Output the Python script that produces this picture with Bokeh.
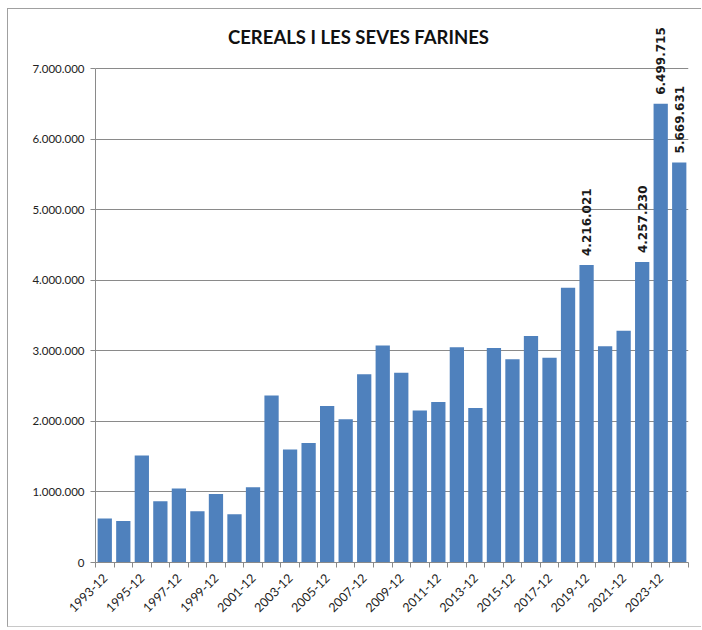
import math
from bokeh.plotting import figure
from bokeh.models import Range1d, FixedTicker, Label, ColumnDataSource
from bokeh.core.properties import value
from bokeh.embed import file_html
from bokeh.resources import INLINE

# ---- data ----
periods = [f"{y}-12" for y in range(1993, 2025)]
values = [624000, 587000, 1516000, 869000, 1047000, 728000, 972000, 685000,
          1066000, 2365000, 1602000, 1692000, 2216000, 2030000, 2668000, 3075000,
          2690000, 2155000, 2275000, 3050000, 2190000, 3040000, 2880000, 3210000,
          2900000, 3895000, 4216021, 3065000, 3285000, 4257230, 6499715, 5669631]
labeled_periods = ["2019-12", "2022-12", "2023-12", "2024-12"]
y_ticks = [0, 1000000, 2000000, 3000000, 4000000, 5000000, 6000000, 7000000]
title_text = "CEREALS I LES SEVES FARINES"


def fmt(v):
    return f"{int(v):,}".replace(",", ".")


idx = list(range(len(periods)))
src = ColumnDataSource(dict(x=idx, top=values))

lab_x = [i for i, p_ in enumerate(periods) if p_ in labeled_periods]
lab_y = [values[i] for i in lab_x]
lab_t = [fmt(v) for v in lab_y]
lab_src = ColumnDataSource(dict(x=lab_x, y=lab_y, t=lab_t))

GRAY = "#8a8a8a"
BLUE = "#4f81bd"

p = figure(width=694, height=619, output_backend="svg", toolbar_location=None,
           x_range=Range1d(-0.5, len(periods) - 0.5), y_range=Range1d(0, 7.808e6),
           min_border_left=87, min_border_right=14, min_border_top=2, min_border_bottom=66)
p.outline_line_color = None
p.background_fill_color = "white"
p.border_fill_color = "white"
p.styles = {"margin-left": "7px", "margin-top": "8px",
            "border-left": "1px solid #a0a0a0", "border-top": "1px solid #a0a0a0",
            "border-bottom": "1px solid #c8c8c8", "border-right": "none"}

p.vbar(x="x", top="top", width=0.77, source=src, fill_color=BLUE, line_color=None)

p.text(x="x", y="y", text="t", source=lab_src, angle=math.pi / 2,
       text_align="left", text_baseline="middle", y_offset=-9,
       text_font=value("DejaVu Sans"), text_font_style="bold",
       text_font_size="12px", text_color="#1a1a1a")

# title
p.add_layout(Label(x=13.69, y=7.44e6, text=title_text, text_align="center",
                   text_baseline="middle", text_font="Lato", text_font_style="bold",
                   text_font_size="18.5px", text_color="#111111"))

# y axis
p.yaxis.ticker = FixedTicker(ticks=y_ticks)
p.yaxis.major_label_overrides = {t: fmt(t) for t in y_ticks}
p.yaxis.bounds = (0, 7000000)
p.yaxis.axis_line_color = GRAY
p.yaxis.major_tick_line_color = GRAY
p.yaxis.major_tick_out = 5
p.yaxis.major_tick_in = 0
p.yaxis.minor_tick_line_color = None
p.yaxis.major_label_standoff = 6
p.yaxis.major_label_text_font = "Lato"
p.yaxis.major_label_text_font_size = "11.5px"
p.yaxis.major_label_text_color = "#222222"

# x axis
major = [i for i in idx if i % 2 == 0]
minor = [i - 0.5 for i in idx] + [len(idx) - 0.5]
p.xaxis.ticker = FixedTicker(ticks=major, minor_ticks=minor)
p.xaxis.major_label_overrides = {i: periods[i] for i in major}
p.xaxis.major_label_orientation = math.pi / 4
p.xaxis.axis_line_color = GRAY
p.xaxis.major_tick_line_color = None
p.xaxis.major_tick_out = 0
p.xaxis.major_tick_in = 0
p.xaxis.minor_tick_line_color = GRAY
p.xaxis.minor_tick_out = 5
p.xaxis.minor_tick_in = 0
p.xaxis.major_label_standoff = 8
p.xaxis.major_label_text_font = "Lato"
p.xaxis.major_label_text_font_size = "12.5px"
p.xaxis.major_label_text_color = "#222222"

p.xgrid.grid_line_color = None
p.ygrid.ticker = FixedTicker(ticks=y_ticks)
p.ygrid.grid_line_color = GRAY
p.ygrid.grid_line_width = 1

open("out.html", "w").write(file_html(p, INLINE))
